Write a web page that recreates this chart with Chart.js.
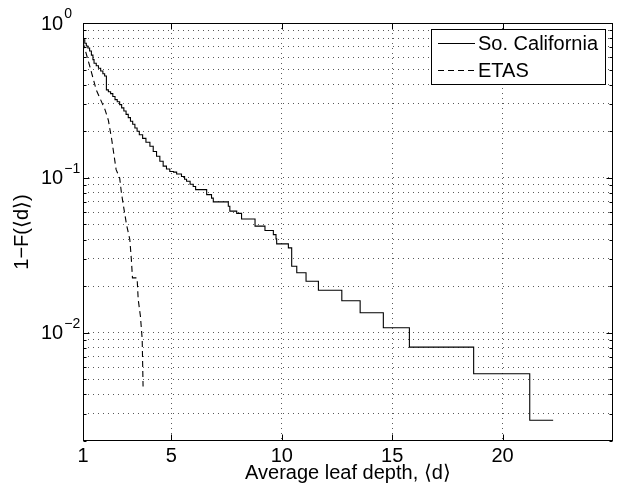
<!DOCTYPE html>
<html>
<head>
<meta charset="utf-8">
<script src="https://cdn.jsdelivr.net/npm/chart.js@4"></script>
<style>
  html, body { margin: 0; padding: 0; background: #fff; }
</style>
</head>
<body>
<canvas id="chart" width="618" height="491"></canvas>
<script>
// So. California, empirical 1-F(<d>) (step curve)
const soCalDepth = [1.0, 1.08, 1.15, 1.22, 1.3, 1.38, 1.45, 1.5, 1.6, 1.7, 1.8, 1.9, 1.98, 2.06, 2.15, 2.25, 2.35,
  2.45, 2.55, 2.66, 2.75, 2.85, 2.95, 3.05, 3.15, 3.25, 3.35, 3.45, 3.55, 3.7, 3.85, 4.03, 4.18, 4.33, 4.48,
  4.63, 4.78, 4.93, 5.1, 5.24, 5.46, 5.6, 5.69, 5.85, 5.99, 6.1, 6.6, 6.82, 6.9, 7.58, 7.65, 7.96, 8.18, 8.79,
  9.24, 9.62, 9.74, 9.77, 10.3, 10.45, 10.68, 11.1, 11.66, 12.72, 13.55, 14.6, 15.78, 18.69, 21.23, 22.29];
const soCalFrac = [0.78, 0.74, 0.71, 0.69, 0.66, 0.62, 0.58, 0.55, 0.53, 0.51, 0.49, 0.47, 0.455, 0.37, 0.36, 0.35, 0.335,
  0.32, 0.31, 0.297, 0.283, 0.27, 0.257, 0.245, 0.232, 0.222, 0.21, 0.20, 0.19, 0.18, 0.17, 0.16, 0.148, 0.138, 0.128,
  0.119, 0.114, 0.110, 0.109, 0.106, 0.102, 0.098, 0.095, 0.091, 0.088, 0.084, 0.078, 0.074, 0.070, 0.0656, 0.061, 0.059, 0.0543, 0.0488,
  0.0457, 0.043, 0.0404, 0.0375, 0.0353, 0.0269, 0.0244, 0.0215, 0.0188, 0.0161, 0.01345, 0.01076, 0.00807, 0.00543, 0.00272, 0.00272];

// ETAS catalogue
const etasDepth = [1.0, 1.3, 1.6, 2.0, 2.15, 2.3, 2.5, 2.66, 2.74, 2.81, 2.97, 3.12, 3.19, 3.24, 3.45, 3.5, 3.6, 3.68, 3.72];
const etasFrac = [0.75, 0.53, 0.37, 0.275, 0.235, 0.177, 0.113, 0.10, 0.08, 0.069, 0.05, 0.04, 0.0297, 0.0226, 0.0226, 0.0164, 0.0128, 0.0091, 0.0045];

const seriesLabels = ['So. California', 'ETAS'];
const xTicks = [1, 5, 10, 15, 20];
const yMajor = [1, 0.1, 0.01];
const yMajorExp = ['0', '\u22121', '\u22122'];

const FONT = "'Liberation Sans', Arial, Helvetica, sans-serif";

const toPoints = (xs, ys) => xs.map((x, i) => ({ x: x, y: ys[i] }));

// every 1..9 x 10^k inside the axis range
const yGrid = [];
[0.001, 0.01, 0.1].forEach(d => {
  for (let s = 1; s <= 9; s++) {
    const v = +(s * d).toPrecision(3);
    if (v >= 0.002) yGrid.push(v);
  }
});
yGrid.push(1);

const framePlugin = {
  id: 'frame',
  afterDraw(chart) {
    const ctx = chart.ctx;
    const a = chart.chartArea;
    const xs = chart.scales.x, ys = chart.scales.y;
    ctx.save();
    ctx.strokeStyle = '#000';
    ctx.lineWidth = 1;
    ctx.setLineDash([]);
    const L = Math.round(a.left) + 0.5, R = Math.round(a.right) - 0.5;
    const T = Math.round(a.top) + 0.5, B = Math.round(a.bottom) - 0.5;
    ctx.strokeRect(L, T, R - L, B - T);

    // inward ticks
    ctx.beginPath();
    xTicks.forEach(v => {
      if (v === 1) return;
      const px = Math.round(xs.getPixelForValue(v)) + 0.5;
      ctx.moveTo(px, B); ctx.lineTo(px, B - 6);
      ctx.moveTo(px, T); ctx.lineTo(px, T + 6);
    });
    yGrid.forEach(v => {
      const py = Math.round(ys.getPixelForValue(v)) + 0.5;
      const len = yMajor.includes(v) ? 6 : 3;
      ctx.moveTo(L, py); ctx.lineTo(L + len, py);
      ctx.moveTo(R, py); ctx.lineTo(R - len, py);
    });
    ctx.stroke();

    // y tick labels 10^k
    ctx.fillStyle = '#000';
    ctx.textBaseline = 'middle';
    ctx.textAlign = 'left';
    yMajor.forEach((v, i) => {
      const py = ys.getPixelForValue(v);
      ctx.font = '20px ' + FONT;
      ctx.fillText('10', 41, py + 1);
      const w = ctx.measureText('10').width;
      ctx.font = '14px ' + FONT;
      ctx.fillText(yMajorExp[i], 41 + w + 1, py - 9);
    });

    // legend
    const bx = 431.5, by = 29.5, bw = 174, bh = 55;
    ctx.fillStyle = '#fff';
    ctx.fillRect(bx, by, bw, bh);
    ctx.strokeRect(bx, by, bw, bh);
    ctx.font = '20px ' + FONT;
    ctx.fillStyle = '#000';
    ctx.textBaseline = 'middle';
    const rows = [43, 70];
    chart.data.datasets.forEach((ds, i) => {
      ctx.beginPath();
      ctx.setLineDash(ds.borderDash || []);
      ctx.moveTo(438, rows[i] + 0.5);
      ctx.lineTo(475, rows[i] + 0.5);
      ctx.stroke();
      ctx.setLineDash([]);
      ctx.fillText(ds.label, 478, rows[i] + 1);
    });
    ctx.restore();
  }
};

new Chart(document.getElementById('chart').getContext('2d'), {
  type: 'line',
  data: {
    datasets: [
      {
        label: seriesLabels[0],
        data: toPoints(soCalDepth, soCalFrac),
        borderColor: '#000',
        borderWidth: 1.1,
        stepped: 'before',
        pointRadius: 0,
        fill: false
      },
      {
        label: seriesLabels[1],
        data: toPoints(etasDepth, etasFrac),
        borderColor: '#000',
        borderWidth: 1.1,
        borderDash: [6, 4],
        pointRadius: 0,
        fill: false,
        tension: 0
      }
    ]
  },
  options: {
    responsive: false,
    animation: false,
    devicePixelRatio: 1,
    layout: { padding: { left: 0, right: 5, top: 23, bottom: 0 } },
    plugins: {
      legend: { display: false },
      tooltip: { enabled: false }
    },
    scales: {
      x: {
        type: 'linear',
        min: 1,
        max: 25,
        afterBuildTicks: s => { s.ticks = xTicks.map(v => ({ value: v })); },
        afterFit: s => { s.height = 50; },
        ticks: {
          autoSkip: false,
          maxRotation: 0,
          color: '#000',
          padding: 3,
          font: { family: FONT, size: 20 },
          callback: v => String(v)
        },
        grid: {
          drawTicks: false,
          lineWidth: 1,
          color: c => (c.tick && c.tick.value === 1) ? 'rgba(0,0,0,0)' : 'rgba(0,0,0,0.65)'
        },
        border: { display: false, dash: [1, 4] },
        title: {
          display: true,
          text: 'Average leaf depth, \u27E8d\u27E9',
          color: '#000',
          font: { family: FONT, size: 20 },
          padding: { top: 0, bottom: 6 }
        }
      },
      y: {
        type: 'logarithmic',
        min: 0.002,
        max: 1,
        afterBuildTicks: s => { s.ticks = yGrid.map(v => ({ value: v })); },
        afterFit: s => { s.width = 83; },
        ticks: {
          autoSkip: false,
          callback: () => '',
          font: { size: 1 }
        },
        grid: {
          drawTicks: false,
          lineWidth: 1,
          color: c => (c.tick && (c.tick.value === 1 || c.tick.value === 0.002)) ? 'rgba(0,0,0,0)' : 'rgba(0,0,0,0.65)'
        },
        border: { display: false, dash: [1, 4] },
        title: {
          display: true,
          text: '1\u2212F(\u27E8d\u27E9)',
          color: '#000',
          font: { family: FONT, size: 20 },
          padding: { top: 10, bottom: 0 }
        }
      }
    }
  },
  plugins: [framePlugin]
});
</script>
</body>
</html>
